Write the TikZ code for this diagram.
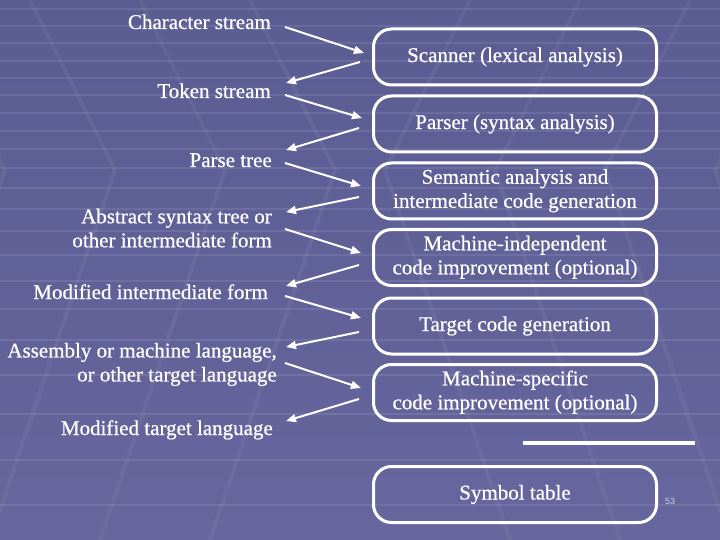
\documentclass[tikz,border=0pt]{standalone}
\usepackage{fontspec}
\setmainfont{Liberation Serif}[BoldFont=Liberation Serif, BoldFeatures={FakeBold=0.6}]
\setsansfont{Liberation Sans}
\usetikzlibrary{arrows.meta,calc}
\definecolor{bgtop}{RGB}{90,92,146}
\definecolor{bgbot}{RGB}{103,102,158}
\definecolor{pagenum}{RGB}{205,205,235}
\tikzset{
  stagebox/.style={draw=white, line width=3pt, rounded corners=18pt,
    minimum width=283pt, minimum height=56pt, text=white, align=center,
    inner sep=0pt, font=\bfseries\fontsize{21}{24}\selectfont},
  lbl/.style={text=white, inner sep=0pt, align=right,
    font=\bfseries\fontsize{21}{24}\selectfont},
  arr/.style={draw=white, line width=2pt, -{Triangle[length=10pt,width=8pt]}},
  gridline/.style={draw=white, opacity=0.09, line width=1.6pt},
  diagline/.style={draw=white, opacity=0.05, line width=4pt}
}
\begin{document}
\begin{tikzpicture}[x=1pt,y=-1pt]
% background
\shade[top color=bgtop, bottom color=bgbot] (0,0) rectangle (720,540);
\useasboundingbox (0,0) rectangle (720,540);
\foreach \yy in {9,26,43,61,78,95,113,131,149,168,188,209,231,255,281,309,340,375,414,460,505}
  \draw[gridline] (0,\yy) -- (720,\yy);
\foreach \xx in {-80,30,140,250}
  \draw[diagline] (\xx,0) -- ({\xx+85},170) -- ({\xx-40},540);
\foreach \xx in {800,690,580,470}
  \draw[diagline] (\xx,0) -- ({\xx-85},170) -- ({\xx+40},540);

% stage boxes
\node[stagebox] (b1) at (515,57) {\raisebox{-2pt}{Scanner (lexical analysis)}};
\node[stagebox] (b2) at (515,124) {\raisebox{-2pt}{Parser (syntax analysis)}};
\node[stagebox] (b3) at (515,191) {\raisebox{-2pt}{\begin{tabular}{@{}c@{}}Semantic analysis and\\intermediate code generation\end{tabular}}};
\node[stagebox] (b4) at (515,257.5) {\raisebox{-2pt}{\begin{tabular}{@{}c@{}}Machine-independent\\code improvement (optional)\end{tabular}}};
\node[stagebox] (b5) at (515,326) {\raisebox{-2pt}{Target code generation}};
\node[stagebox] (b6) at (515,392.5) {\raisebox{-2pt}{\begin{tabular}{@{}c@{}}Machine-specific\\code improvement (optional)\end{tabular}}};
\node[stagebox] (sym) at (515,494.5) {\raisebox{-2pt}{Symbol table}};

% separator bar
\fill[white] (523,441) rectangle (695,445);

% labels
\node[lbl, anchor=base east] (t1) at (271,29) {Character stream};
\node[lbl, anchor=base east] (t2) at (271,98) {Token stream};
\node[lbl, anchor=base east] (t3) at (272,167) {Parse tree};
\node[lbl, anchor=north east] (t4) at (272,208.5) {Abstract syntax tree or\\other intermediate form};
\node[lbl, anchor=base east] (t5) at (268,299) {Modified intermediate form};
\node[lbl, anchor=north east] (t6) at (277,342.7) {Assembly or machine language,\\or other target language};
\node[lbl, anchor=base east] (t7) at (273,435) {Modified target language};

% arrows
\draw[arr] ($(t1.base east)+(14,-2)$) -- ($(b1.west)+(-8,-4)$);
\draw[arr] ($(b1.west)+(-12,5)$) -- ($(t2.base east)+(15,-15)$);
\draw[arr] ($(t2.base east)+(14,-3)$) -- ($(b2.west)+(-10,-6)$);
\draw[arr] ($(b2.west)+(-13,4)$) -- ($(t3.base east)+(14,-17)$);
\draw[arr] ($(t3.base east)+(13,-4)$) -- ($(b3.west)+(-11,-5)$);
\draw[arr] ($(b3.west)+(-13,6)$) -- ($(t4.north east)+(14,3.5)$);
\draw[arr] ($(t4.north east)+(13,20.5)$) -- ($(b4.west)+(-11,-4.5)$);
\draw[arr] ($(b4.west)+(-13,7.5)$) -- ($(t5.base east)+(18,-13)$);
\draw[arr] ($(t5.base east)+(17,-3)$) -- ($(b5.west)+(-11,-8)$);
\draw[arr] ($(b5.west)+(-13,6)$) -- ($(t6.north east)+(9,4.3)$);
\draw[arr] ($(t6.north east)+(8,20.3)$) -- ($(b6.west)+(-11,-4.5)$);
\draw[arr] ($(b6.west)+(-13,6.5)$) -- ($(t7.base east)+(13,-14)$);

% page number
\node[text=pagenum, inner sep=0pt, font=\sffamily\fontsize{9}{10}\selectfont] (pg) at (670,501) {53};
\end{tikzpicture}
\end{document}
